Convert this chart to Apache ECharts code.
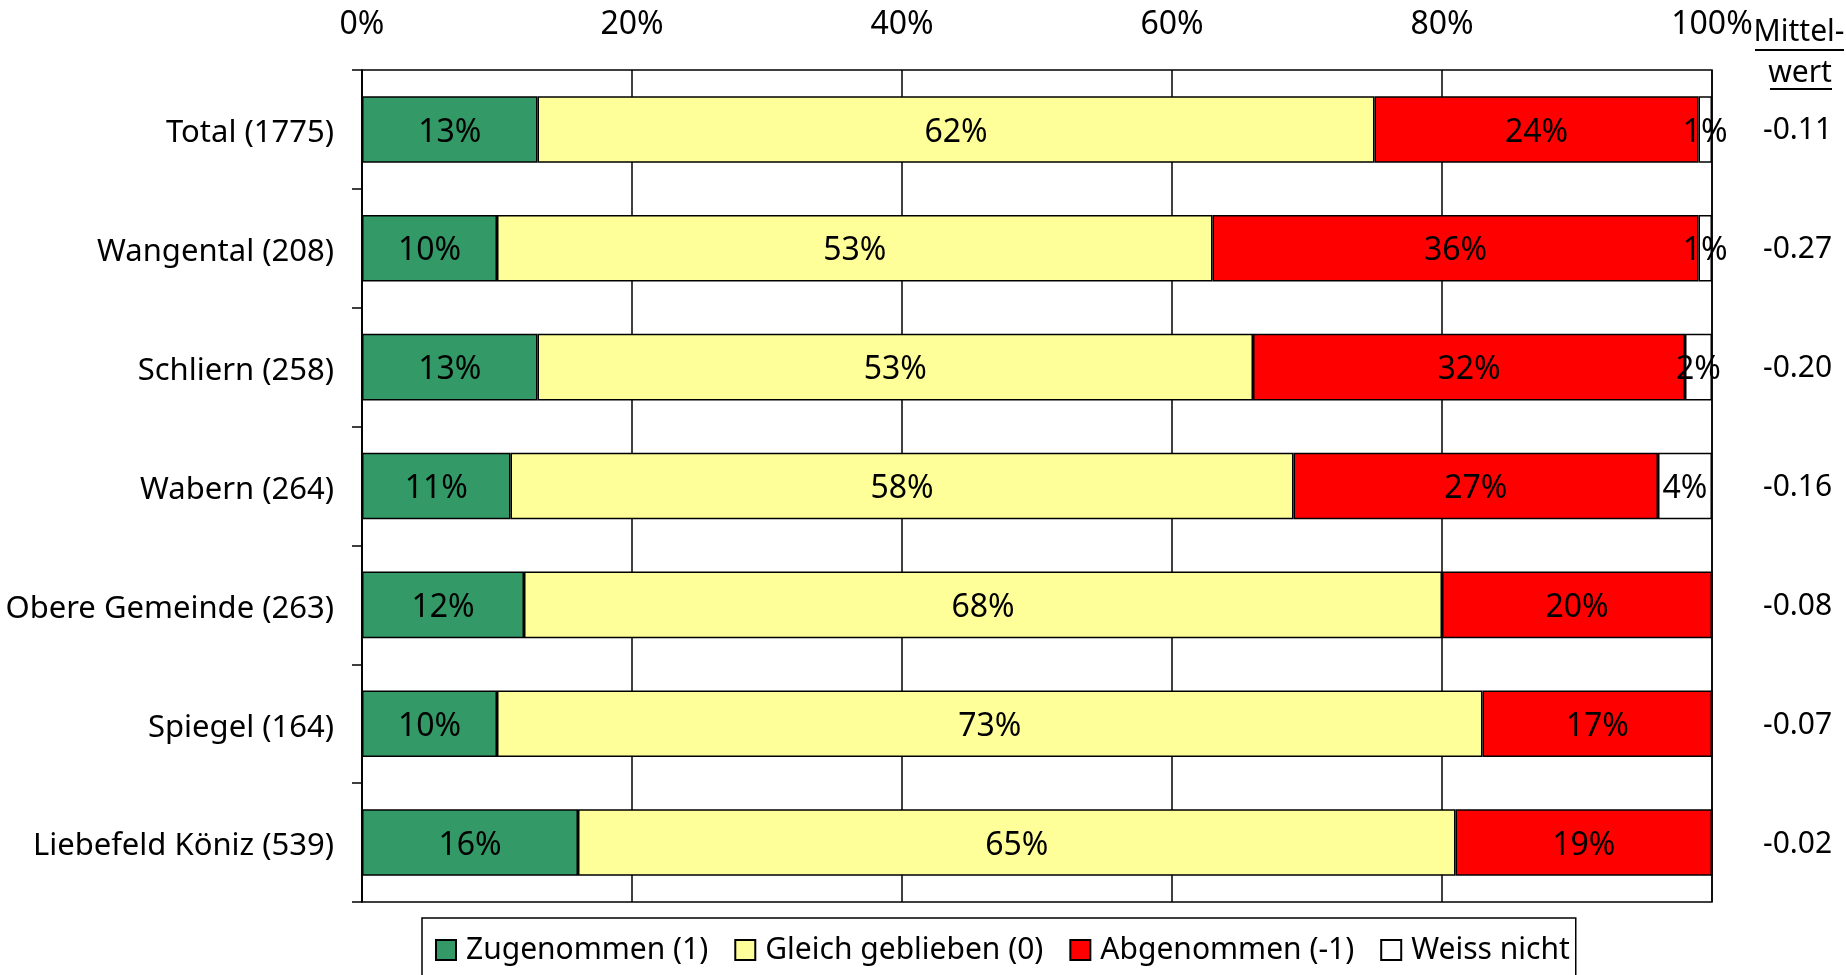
<!DOCTYPE html>
<html>
<head>
<meta charset="utf-8">
<script src="https://cdn.jsdelivr.net/npm/echarts@6/dist/echarts.min.js"></script>
<style>
  html, body { margin: 0; padding: 0; background: #fff; }
  #chart { width: 1846px; height: 975px; }
</style>
</head>
<body>
<div id="chart"></div>
<script>
// Kategorien (oben nach unten)
var categories = ["Total (1775)", "Wangental (208)", "Schliern (258)", "Wabern (264)",
  "Obere Gemeinde (263)", "Spiegel (164)", "Liebefeld Köniz (539)"];
var zugenommen = [13, 10, 13, 11, 12, 10, 16];
var gleichGeblieben = [62, 53, 53, 58, 68, 73, 65];
var abgenommen = [24, 36, 32, 27, 20, 17, 19];
var weissNicht = [1, 1, 2, 4, 0, 0, 0];
var mittelwert = ["-0.11", "-0.27", "-0.20", "-0.16", "-0.08", "-0.07", "-0.02"];
var seriesNames = ["Zugenommen (1)", "Gleich geblieben (0)", "Abgenommen (-1)", "Weiss nicht"];

var FONT = "Noto Sans";
var chart = echarts.init(document.getElementById("chart"));

function makeSeries(name, data, color) {
  return {
    name: name,
    type: "bar",
    stack: "total",
    data: data,
    barWidth: "56%",
    itemStyle: { color: color, borderColor: "#000", borderWidth: 1.5 },
    label: {
      show: true,
      position: "inside",
      offset: [0, 3],
      color: "#000",
      fontFamily: FONT,
      fontSize: 32,
      formatter: function (p) { return p.value ? p.value + "%" : ""; }
    },
    emphasis: { disabled: true }
  };
}

chart.setOption({
  animation: false,
  textStyle: { fontFamily: FONT },
  grid: {
    left: 362, right: 134, top: 70, bottom: 73,
    outerBoundsMode: "none",
    containLabel: false,
    show: true, borderColor: "#000", borderWidth: 1.5
  },
  legend: {
    data: seriesNames,
    left: 422,
    top: 918,
    icon: "rect",
    itemWidth: 20,
    itemHeight: 20,
    itemGap: 26,
    padding: [14, 6, 20, 13],
    borderColor: "#000",
    borderWidth: 1.5,
    textStyle: { fontFamily: FONT, fontSize: 30, color: "#000", lineHeight: 36, padding: [0, 0, 0, 5] }
  },
  xAxis: {
    type: "value",
    position: "top",
    min: 0,
    max: 100,
    interval: 20,
    axisLine: { show: false },
    axisTick: { show: false },
    axisLabel: { formatter: "{value}%", fontFamily: FONT, fontSize: 32, color: "#000", margin: 29 },
    splitLine: { show: true, lineStyle: { color: "#000", width: 1.5 } }
  },
  yAxis: [{
    type: "category",
    inverse: true,
    data: categories,
    axisLine: { show: true, lineStyle: { color: "#000", width: 1.5 } },
    axisTick: { show: true, length: 10, lineStyle: { color: "#000", width: 1.5 } },
    axisLabel: {
      color: "#000", margin: 28,
      formatter: function (v) { return "{c|" + v + "}"; },
      rich: { c: { fontFamily: FONT, fontSize: 31, color: "#000", padding: [8, 0, 0, 0] } }
    }
  }, {
    type: "category",
    inverse: true,
    position: "right",
    data: mittelwert,
    axisLine: { show: false },
    axisTick: { show: false },
    axisLabel: {
      color: "#000", margin: 51,
      formatter: function (v) { return "{m|" + v + "}"; },
      rich: { m: { fontFamily: FONT, fontSize: 30, color: "#000", padding: [3, 0, 0, 0] } }
    }
  }],
  graphic: [
    { type: "text", x: 1799, y: 32, style: { text: "Mittel-", font: "30px " + FONT, fill: "#000", align: "center", verticalAlign: "middle" } },
    { type: "line", shape: { x1: 1755, y1: 50, x2: 1844, y2: 50 }, style: { stroke: "#000", lineWidth: 2 } },
    { type: "text", x: 1800, y: 73, style: { text: "wert", font: "30px " + FONT, fill: "#000", align: "center", verticalAlign: "middle" } },
    { type: "line", shape: { x1: 1770, y1: 89, x2: 1832, y2: 89 }, style: { stroke: "#000", lineWidth: 2 } }
  ],
  series: [
    makeSeries(seriesNames[0], zugenommen, "#339966"),
    makeSeries(seriesNames[1], gleichGeblieben, "#FFFF99"),
    makeSeries(seriesNames[2], abgenommen, "#FF0000"),
    makeSeries(seriesNames[3], weissNicht, "#FFFFFF")
  ]
});
</script>
</body>
</html>
